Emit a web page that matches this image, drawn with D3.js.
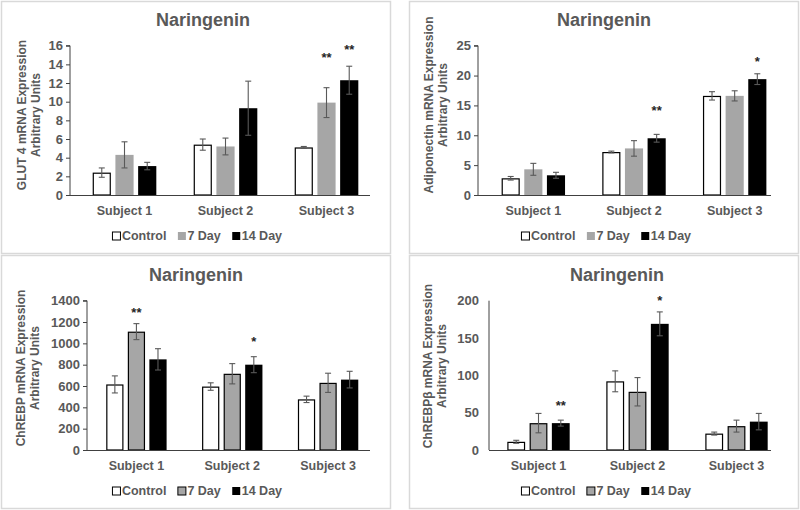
<!DOCTYPE html>
<html>
<head>
<meta charset="utf-8">
<script src="https://cdn.jsdelivr.net/npm/d3@7"></script>
<style>
  html, body { margin: 0; padding: 0; background: #ffffff; }
  svg { display: block; font-family: "Liberation Sans", Arial, sans-serif; }
</style>
</head>
<body>
<svg id="chart" width="800" height="510"></svg>
<script>
// ---------------- DATA ----------------
const categories = ["Subject 1", "Subject 2", "Subject 3"];
const seriesNames = ["Control", "7 Day", "14 Day"];
const chartTitle = "Naringenin";

// GLUT 4 (rows: Control, 7 Day, 14 Day; columns: Subject 1..3)
const glut4Values = [[2.4, 5.4, 5.1], [4.3, 5.2, 9.9], [3.1, 9.3, 12.3]];
const glut4Errors = [[0.5, 0.6, 0.1], [1.4, 0.9, 1.6], [0.4, 2.9, 1.5]];
const glut4Ticks = [0, 2, 4, 6, 8, 10, 12, 14, 16];
const glut4Stars = [{ subject: 2, series: 1, label: "**", at: 15.1 }, { subject: 2, series: 2, label: "**", at: 15.9 }];

// Adiponectin
const adipoValues = [[2.8, 7.2, 16.6], [4.3, 7.8, 16.6], [3.3, 9.5, 19.4]];
const adipoErrors = [[0.3, 0.15, 0.7], [1.0, 1.3, 0.85], [0.5, 0.65, 0.9]];
const adipoTicks = [0, 5, 10, 15, 20, 25];
const adipoStars = [{ subject: 1, series: 2, label: "**", at: 14.6 }, { subject: 2, series: 2, label: "*", at: 22.9 }];

// ChREBP
const chrebpValues = [[615, 595, 475], [1110, 715, 630], [850, 800, 660]];
const chrebpErrors = [[80, 35, 30], [75, 95, 90], [100, 75, 78]];
const chrebpTicks = [0, 200, 400, 600, 800, 1000, 1200, 1400];
const chrebpStars = [{ subject: 0, series: 1, label: "**", at: 1313 }, { subject: 1, series: 2, label: "*", at: 1050 }];

// ChREBPβ
const chrebpbValues = [[11, 92, 22], [36, 78, 32], [36, 169, 38]];
const chrebpbErrors = [[2, 14, 2], [13, 19, 8], [4, 16, 11]];
const chrebpbTicks = [0, 50, 100, 150, 200];
const chrebpbStars = [{ subject: 0, series: 2, label: "**", at: 63 }, { subject: 1, series: 2, label: "*", at: 204 }];

// ---------------- LAYOUT ----------------
const panels = [
  { values: glut4Values, errors: glut4Errors, ticks: glut4Ticks, stars: glut4Stars,
    ylab: ["GLUT 4 mRNA Expression", "Arbitrary Units"],
    box: [1, 1, 390, 253], axisX: 70, axisEnd: 370, band: [74, 377], yTop: 45.7, yZero: 195,
    tickMarks: true, grayStroke: false, titleX: 203, titleY: 26, catY: 215, legY: 236, legCx: 197, labX: 22, labY: 115 },
  { values: adipoValues, errors: adipoErrors, ticks: adipoTicks, stars: adipoStars,
    ylab: ["Adiponectin mRNA Expression", "Arbitrary Units"],
    box: [409, 1, 390, 253], axisX: 478, axisEnd: 771, band: [483, 785], yTop: 45.7, yZero: 195,
    tickMarks: true, grayStroke: false, titleX: 604, titleY: 26, catY: 215, legY: 236, legCx: 606, labX: 429, labY: 105 },
  { values: chrebpValues, errors: chrebpErrors, ticks: chrebpTicks, stars: chrebpStars,
    ylab: ["ChREBP mRNA Expression", "Arbitrary Units"],
    box: [1, 255, 390, 254], axisX: 87, axisEnd: 370, band: [88.5, 376], yTop: 300.7, yZero: 450,
    tickMarks: true, grayStroke: true, titleX: 196, titleY: 281, catY: 470, legY: 491, legCx: 197, labX: 21, labY: 368 },
  { values: chrebpbValues, errors: chrebpbErrors, ticks: chrebpbTicks, stars: chrebpbStars,
    ylab: ["ChREBPβ mRNA Expression", "Arbitrary Units"],
    box: [409, 255, 390, 254], axisX: 489, axisEnd: 771, band: [489, 786], yTop: 300.7, yZero: 450,
    tickMarks: false, grayStroke: true, titleX: 617, titleY: 281, catY: 470, legY: 491, legCx: 606, labX: 428, labY: 366 }
];

const TEXT = "#595959";
const fills = ["#ffffff", "#a6a6a6", "#000000"];

const svg = d3.select("#chart");

panels.forEach(p => {
  const g = svg.append("g");

  // frame
  g.append("rect")
    .attr("x", p.box[0] + 0.5).attr("y", p.box[1] + 0.5)
    .attr("width", p.box[2] - 1).attr("height", p.box[3] - 1)
    .attr("fill", "#fff").attr("stroke", "#d9d9d9").attr("stroke-width", 1.5);

  const maxV = p.ticks[p.ticks.length - 1];
  const y = d3.scaleLinear().domain([0, maxV]).range([p.yZero, p.yTop]);
  const x0 = d3.scaleBand().domain(categories).range(p.band).paddingInner(0).paddingOuter(0);
  const bw = x0.bandwidth();
  const barW = bw * 0.18;
  const gap = bw * 0.045;
  const x1 = d3.scaleBand().domain(seriesNames)
    .range([bw / 2 - (1.5 * barW + gap), bw / 2 + (1.5 * barW + gap)])
    .paddingInner(gap / (barW + gap)).paddingOuter(0);

  // title
  g.append("text").attr("x", p.titleX).attr("y", p.titleY)
    .attr("text-anchor", "middle").attr("font-size", 18).attr("font-weight", "bold")
    .attr("fill", TEXT).text(chartTitle);

  // y axis
  const yAxis = d3.axisLeft(y).tickValues(p.ticks).tickSize(p.tickMarks ? 4 : 0).tickPadding(p.tickMarks ? 3 : 10).tickFormat(d3.format("d"));
  const ya = g.append("g").attr("transform", `translate(${p.axisX},0)`).call(yAxis);
  ya.select(".domain").attr("stroke", "#404040").attr("d", `M${p.tickMarks ? -4 : 0},${p.yTop}H0V${p.yZero}`);
  ya.selectAll(".tick line").attr("stroke", "#404040");
  ya.selectAll(".tick text").attr("fill", TEXT).attr("font-size", 13).attr("font-weight", "bold")
    .attr("font-family", "Liberation Sans, Arial, sans-serif");

  // y label (two lines, rotated)
  p.ylab.forEach((t, i) => {
    g.append("text")
      .attr("transform", `translate(${p.labX + i * 14},${p.labY}) rotate(-90)`)
      .attr("text-anchor", "middle").attr("dy", "0.35em")
      .attr("font-size", 12).attr("font-weight", "bold").attr("fill", TEXT).text(t);
  });

  // bars
  seriesNames.forEach((s, si) => {
    categories.forEach((c, ci) => {
      const v = p.values[si][ci];
      const bx = p.band[0] + x0(c) - p.band[0] + x1(s);
      const bwid = x1.bandwidth();
      const rect = g.append("rect")
        .attr("x", bx).attr("y", y(v)).attr("width", bwid).attr("height", y(0) - y(v))
        .attr("fill", fills[si]);
      if (si === 0 || (si === 1 && p.grayStroke)) {
        rect.attr("stroke", "#000").attr("stroke-width", 1.2)
          .attr("x", bx + 0.6).attr("width", bwid - 1.2).attr("y", y(v) + 0.6).attr("height", y(0) - y(v) - 0.6);
      }
      // error bar
      const e = p.errors[si][ci];
      const cx = bx + bwid / 2;
      const eg = g.append("g").attr("stroke", "#595959").attr("stroke-width", 1.1);
      eg.append("line").attr("x1", cx).attr("x2", cx).attr("y1", y(v + e)).attr("y2", y(v - e));
      eg.append("line").attr("x1", cx - 3).attr("x2", cx + 3).attr("y1", y(v + e)).attr("y2", y(v + e));
      eg.append("line").attr("x1", cx - 3).attr("x2", cx + 3).attr("y1", y(v - e)).attr("y2", y(v - e));
    });
  });

  // x axis line
  g.append("line").attr("x1", p.axisX).attr("x2", p.axisEnd)
    .attr("y1", p.yZero + 0.5).attr("y2", p.yZero + 0.5).attr("stroke", "#404040").attr("stroke-width", 1);

  // category labels
  categories.forEach(c => {
    g.append("text").attr("x", x0(c) + bw / 2).attr("y", p.catY)
      .attr("text-anchor", "middle").attr("font-size", 12.5).attr("font-weight", "bold")
      .attr("fill", TEXT).text(c);
  });

  // significance stars
  p.stars.forEach(st => {
    const c = categories[st.subject], s = seriesNames[st.series];
    g.append("text").attr("x", x0(c) + x1(s) + x1.bandwidth() / 2).attr("y", y(st.at) + 7.5)
      .attr("text-anchor", "middle").attr("font-size", 13).attr("font-weight", "bold")
      .attr("fill", "#262626").text(st.label);
  });

  // legend
  const lg = g.append("g");
  let cursor = 0;
  const items = [];
  seriesNames.forEach((s, si) => {
    const it = lg.append("g");
    const sw = it.append("rect").attr("x", cursor + 0.5).attr("y", p.legY - 4).attr("width", 8).attr("height", 8)
      .attr("fill", fills[si]);
    if (si === 0 || (si === 1 && p.grayStroke)) sw.attr("stroke", "#000").attr("stroke-width", 1);
    const tx = it.append("text").attr("x", cursor + 10).attr("y", p.legY).attr("dy", "0.35em")
      .attr("font-size", 12.5).attr("font-weight", "bold").attr("fill", TEXT).text(s);
    cursor += 10 + tx.node().getComputedTextLength() + 11;
  });
  const total = cursor - 11;
  lg.attr("transform", `translate(${p.legCx - total / 2},0)`);
});
</script>
</body>
</html>
